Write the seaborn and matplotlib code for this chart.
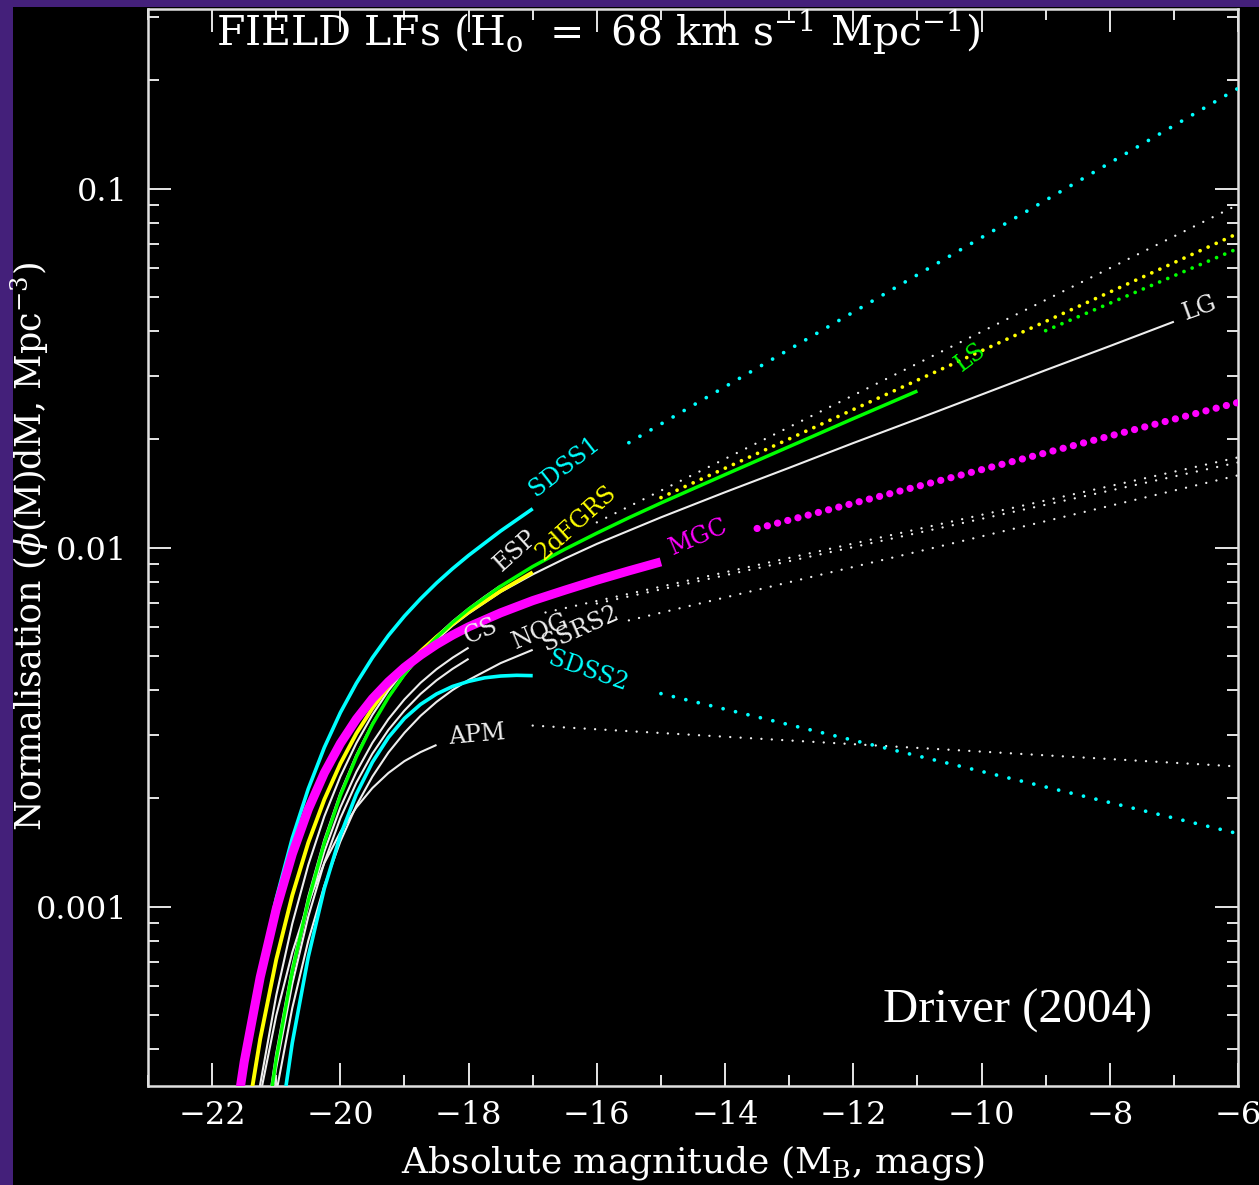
import numpy as np
import pandas as pd
import matplotlib
matplotlib.use("Agg")
import matplotlib.pyplot as plt
import seaborn as sns
from matplotlib.patches import Rectangle
from matplotlib.ticker import MultipleLocator, LogLocator, NullFormatter, FuncFormatter

sns.set_theme(style="ticks")
plt.rcParams['font.family'] = ['DejaVu Serif', 'DejaVu Sans']
plt.rcParams['mathtext.fontset'] = 'dejavuserif'

# ---------------- data: absolute magnitude M_B and log10(phi / Mpc^-3) ----------------
SDSS1_M = [-21.75, -21.5, -21.25, -21.0, -20.75, -20.5, -20.25, -20.0, -19.75, -19.5, -19.25, -19.0,
           -18.75, -18.5, -18.25, -18.0, -17.5, -17.0]
SDSS1_L = [-3.741, -3.433, -3.182, -2.978, -2.810, -2.672, -2.557, -2.460, -2.378, -2.307, -2.245, -2.191,
           -2.143, -2.099, -2.059, -2.022, -1.954, -1.892]

MGC_M = [-21.75, -21.5, -21.25, -21.0, -20.75, -20.5, -20.25, -20.0, -19.75, -19.5, -19.25, -19.0,
         -18.75, -18.5, -18.25, -18.0, -17.5, -17.0, -16.5, -16.0, -15.5, -15.0]
MGC_L = [-3.727, -3.433, -3.197, -3.007, -2.854, -2.729, -2.628, -2.546, -2.478, -2.421, -2.374, -2.334,
         -2.300, -2.270, -2.244, -2.221, -2.182, -2.148, -2.119, -2.091, -2.065, -2.040]

TDF_M = [-21.5, -21.25, -21.0, -20.75, -20.5, -20.25, -20.0, -19.75, -19.5, -19.25, -19.0,
         -18.75, -18.5, -18.25, -18.0, -17.5, -17.0]
TDF_L = [-3.641, -3.369, -3.148, -2.969, -2.822, -2.702, -2.602, -2.518, -2.448, -2.387, -2.335,
         -2.289, -2.249, -2.213, -2.180, -2.121, -2.069]

LS_M = [-21.25, -21.0, -20.75, -20.5, -20.25, -20.0, -19.75, -19.5, -19.25, -19.0, -18.75, -18.5,
        -18.25, -18.0, -17.5, -17.0, -16.5, -16.0, -15.5, -15.0, -14.0, -13.0, -12.0, -11.0]
LS_L = [-3.726, -3.425, -3.181, -2.984, -2.823, -2.691, -2.583, -2.493, -2.417, -2.353, -2.298, -2.251,
        -2.209, -2.172, -2.108, -2.053, -2.005, -1.960, -1.917, -1.876, -1.797, -1.719, -1.641, -1.564]

ESP_M = [-21.5, -21.25, -21.0, -20.75, -20.5, -20.25, -20.0, -19.75, -19.5, -19.25, -19.0,
         -18.75, -18.5, -18.25, -18.0, -17.75, -17.5]
ESP_L = [-3.799, -3.495, -3.248, -3.048, -2.884, -2.749, -2.638, -2.545, -2.466, -2.399, -2.342,
         -2.291, -2.247, -2.206, -2.170, -2.137, -2.106]

LG_M = [-21.25, -21.0, -20.75, -20.5, -20.25, -20.0, -19.75, -19.5, -19.25, -19.0, -18.75, -18.5,
        -18.25, -18.0, -17.5, -17.0, -16.5, -16.0, -15.0, -14.0, -13.0, -12.0, -11.0, -10.0,
        -9.0, -8.0, -7.0]
LG_L = [-3.708, -3.409, -3.167, -2.972, -2.814, -2.684, -2.578, -2.490, -2.417, -2.355, -2.303, -2.258,
        -2.218, -2.184, -2.124, -2.075, -2.031, -1.990, -1.916, -1.846, -1.778, -1.709, -1.642, -1.574,
        -1.506, -1.439, -1.371]

CS_M = [-21.25, -21.0, -20.75, -20.5, -20.25, -20.0, -19.75, -19.5, -19.25, -19.0, -18.75, -18.5,
        -18.25, -18.0]
CS_L = [-3.713, -3.421, -3.187, -2.998, -2.847, -2.724, -2.625, -2.544, -2.478, -2.423, -2.377, -2.339,
        -2.307, -2.279]

NOG_M = [-21.25, -21.0, -20.75, -20.5, -20.25, -20.0, -19.75, -19.5, -19.25, -19.0, -18.75, -18.5,
         -18.25, -18.0]
NOG_L = [-3.742, -3.450, -3.216, -3.028, -2.877, -2.754, -2.655, -2.574, -2.508, -2.454, -2.408, -2.370,
         -2.338, -2.310]

SSRS2_M = [-21.25, -21.0, -20.75, -20.5, -20.25, -20.0, -19.75, -19.5, -19.25, -19.0, -18.75, -18.5,
           -18.25, -18.0, -17.5, -17.0]
SSRS2_L = [-3.811, -3.519, -3.283, -3.095, -2.942, -2.819, -2.719, -2.638, -2.571, -2.516, -2.469, -2.430,
           -2.397, -2.369, -2.322, -2.285]

SDSS2_M = [-21.0, -20.75, -20.5, -20.25, -20.0, -19.75, -19.5, -19.25, -19.0, -18.75, -18.5, -18.25,
           -18.0, -17.75, -17.5, -17.25, -17.0]
SDSS2_L = [-3.687, -3.380, -3.140, -2.950, -2.802, -2.687, -2.598, -2.529, -2.476, -2.437, -2.408, -2.387,
           -2.373, -2.363, -2.358, -2.356, -2.357]

APM_M = [-21.5, -21.25, -21.0, -20.75, -20.5, -20.25, -20.0, -19.75, -19.5, -19.25, -19.0, -18.75, -18.5]
APM_L = [-3.805, -3.526, -3.304, -3.128, -2.989, -2.879, -2.793, -2.724, -2.670, -2.628, -2.595, -2.570,
         -2.550]

# faint-end extrapolations (dotted): [start, end] in M and log10(phi)
SDSS1_dot_M, SDSS1_dot_L = [-15.5, -6.0], [-1.708, -0.721]
ESP_dot_M, ESP_dot_L = [-16.0, -6.0], [-1.930, -1.045]
TDF_dot_M, TDF_dot_L = [-15.0, -6.0], [-1.861, -1.125]
LS_dot_M, LS_dot_L = [-9.0, -6.0], [-1.396, -1.167]
MGC_dot_M, MGC_dot_L = [-13.5, -6.0], [-1.947, -1.596]
CS_dot_M, CS_dot_L = [-16.8, -6.0], [-2.181, -1.749]
NOG_dot_M, NOG_dot_L = [-16.0, -6.0], [-2.156, -1.763]
SSRS2_dot_M, SSRS2_dot_L = [-15.5, -6.0], [-2.203, -1.799]
SDSS2_dot_M, SDSS2_dot_L = [-15.0, -6.0], [-2.407, -2.797]
APM_dot_M, APM_dot_L = [-17.0, -6.0], [-2.496, -2.610]

x_ticks = [-22, -20, -18, -16, -14, -12, -10, -8, -6]
y_ticks = [0.001, 0.01, 0.1]

# ---------------- figure ----------------
W, H = 1259, 1185
fig = plt.figure(figsize=(W / 100, H / 100), dpi=100)
fig.patch.set_facecolor('#44207a')
fig.add_artist(Rectangle((13 / W, 0), 1 - 13 / W, 1 - 7 / H, transform=fig.transFigure,
                         facecolor='black', edgecolor='none', zorder=-5))
ax = fig.add_axes([148 / W, (H - 1086) / H, 1090 / W, 1077 / H])
ax.set_facecolor('black')
ax.set_yscale('log')

CYAN, MAG, YEL, GRN, WHT = '#00ffff', '#ff00ff', '#ffff00', '#00ff00', '#eeeeee'


def draw(M, L, color, lw, ls='-', z=2):
    phi = [10.0 ** v for v in L]
    sns.lineplot(x=M, y=phi, color=color, lw=lw, linestyle=ls, ax=ax, sort=False,
                 estimator=None, zorder=z, solid_capstyle='butt', dash_capstyle='round',
                 solid_joinstyle='round')


wdot = (0, (0.01, 4.4))
# white curves
for M, L in [(ESP_M, ESP_L), (LG_M, LG_L), (CS_M, CS_L), (NOG_M, NOG_L),
             (SSRS2_M, SSRS2_L), (APM_M, APM_L)]:
    draw(M, L, WHT, 1.5, z=2)
for M, L in [(ESP_dot_M, ESP_dot_L), (CS_dot_M, CS_dot_L), (NOG_dot_M, NOG_dot_L),
             (SSRS2_dot_M, SSRS2_dot_L), (APM_dot_M, APM_dot_L)]:
    draw(M, L, WHT, 1.7, ls=wdot, z=2)

# cyan
draw(SDSS2_M, SDSS2_L, CYAN, 2.6, z=3)
draw(SDSS1_M, SDSS1_L, CYAN, 2.6, z=3)
draw(SDSS1_dot_M, SDSS1_dot_L, CYAN, 2.7, ls=(0, (0.01, 3.4)), z=3)
draw(SDSS2_dot_M, SDSS2_dot_L, CYAN, 2.7, ls=(0, (0.01, 3.4)), z=3)
# yellow
draw(TDF_M, TDF_L, YEL, 2.8, z=4)
draw(TDF_dot_M, TDF_dot_L, YEL, 2.7, ls=(0, (0.01, 2.35)), z=4)
# green
draw(LS_M, LS_L, GRN, 2.5, z=5)
draw(LS_dot_M, LS_dot_L, GRN, 2.7, ls=(0, (0.01, 2.35)), z=5)
# magenta
draw(MGC_M, MGC_L, MAG, 6.5, z=6)
draw(MGC_dot_M, MGC_dot_L, MAG, 5.2, ls=(0, (0.01, 1.45)), z=6)

ax.set_xlim(-23, -6)
ax.set_ylim(10 ** -3.5, 10 ** -0.5)

# ---------------- axes styling ----------------
ax.xaxis.set_major_locator(plt.FixedLocator(x_ticks))
ax.xaxis.set_minor_locator(MultipleLocator(1))
ax.yaxis.set_major_locator(plt.FixedLocator(y_ticks))
ax.yaxis.set_minor_locator(LogLocator(base=10, subs=np.arange(2, 10)))
ax.yaxis.set_minor_formatter(NullFormatter())
ax.yaxis.set_major_formatter(FuncFormatter(lambda v, p: f"{v:g}"))
ax.tick_params(which='both', direction='in', top=True, right=True, color='#e6e6e6',
               labelcolor='white', width=1.4)
ax.tick_params(which='major', length=16.5, labelsize=23)
ax.tick_params(which='minor', length=8)
ax.tick_params(axis='x', pad=10)
ax.tick_params(axis='y', pad=15)
for s in ax.spines.values():
    s.set_color('#e0e0e0')
    s.set_linewidth(1.8)
ax.set_xlabel('')
ax.set_ylabel('')
ax.grid(False)

fig.text(693 / W, 1 - 1163 / H, r'Absolute magnitude (M$_\mathrm{B}$, mags)', color='white',
         fontsize=26, ha='center', va='center')
fig.text(30 / W, 1 - 547 / H, r'Normalisation ($\phi$(M)dM, Mpc$^{-3}$)', color='white',
         fontsize=25, ha='center', va='center', rotation=90)

ax.text(0.0624, 0.965, r'FIELD LFs (H$_\mathrm{o}$  =  68 km s$^{-1}$ Mpc$^{-1}$)',
        transform=ax.transAxes, color='white', fontsize=29.5, ha='left', va='baseline')
ax.text(0.6743, 0.0585, 'Driver (2004)', transform=ax.transAxes, color='white',
        fontsize=35, ha='left', va='baseline', family=['Liberation Serif', 'DejaVu Serif'])

# curve labels
labels = [
    ('SDSS1', -16.95, 0.0138, 38, CYAN),
    ('ESP', -17.49, 8.53e-3, 42, WHT),
    ('2dFGRS', -16.84, 9.2e-3, 42, YEL),
    ('MGC', -14.81, 9.5e-3, 23, MAG),
    ('CS', -18.02, 5.39e-3, 23, WHT),
    ('NOG', -17.26, 5.22e-3, 23, WHT),
    ('SSRS2', -16.79, 5.16e-3, 24, WHT),
    ('SDSS2', -16.77, 4.74e-3, -19, CYAN),
    ('APM', -18.30, 2.84e-3, 5, WHT),
    ('LS', -10.31, 0.0308, 37, GRN),
    ('LG', -6.81, 0.0429, 20, WHT),
]
for t, m, p, r, c in labels:
    ax.text(m, p, t, color=c, fontsize=17, rotation=r, rotation_mode='anchor',
            ha='left', va='baseline', zorder=7)

fig.savefig('out.png', dpi=100, facecolor=fig.get_facecolor())
